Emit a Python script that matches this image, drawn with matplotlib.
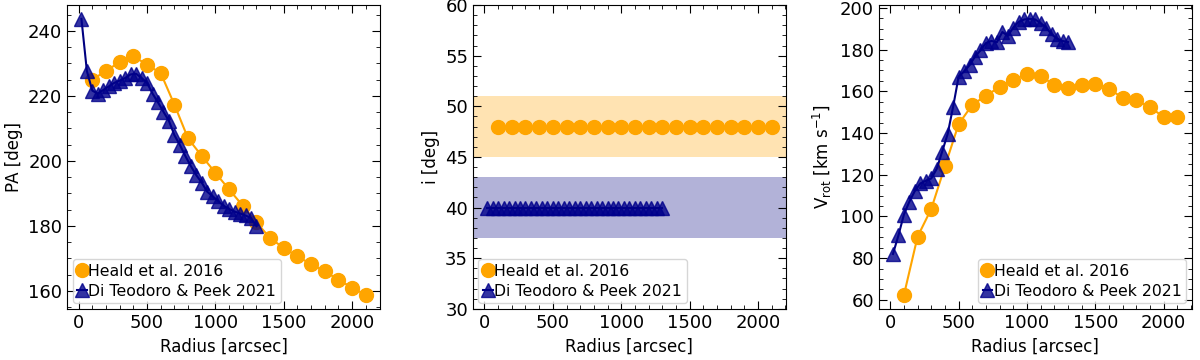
import matplotlib.pyplot as plt
from matplotlib.ticker import MultipleLocator

# Heald et al. 2016
r_heald = [100, 200, 300, 400, 500, 600, 700, 800, 900, 1000, 1100,
           1200, 1300, 1400, 1500, 1600, 1700, 1800, 1900, 2000, 2100]
pa_heald = [225.0, 227.7, 230.4, 232.2, 229.6, 227.0, 217.3, 206.9, 201.5, 196.3, 191.2,
            186.2, 181.1, 176.2, 173.2, 170.6, 168.2, 166.0, 163.4, 161.0, 158.7]
inc_heald = [48] * len(r_heald)
vrot_heald = [62.3, 90.3, 103.6, 124.0, 144.2, 153.5, 157.9, 162.0, 165.6, 168.2, 167.1,
              163.2, 161.7, 163.2, 163.6, 161.2, 156.8, 155.6, 152.4, 147.6, 147.7]

# Di Teodoro & Peek 2021
r_dtp = [20, 60, 100, 140, 180, 220, 260, 300, 340, 380, 420, 460, 500, 540, 580, 620, 660,
         700, 740, 780, 820, 860, 900, 940, 980, 1020, 1060, 1100, 1140, 1180, 1220, 1260, 1300]
pa_dtp = [243.7, 227.6, 221.6, 220.7, 221.8, 222.9, 224.0, 224.7, 225.5, 226.6, 226.8,
          225.5, 224.0, 220.7, 218.0, 215.1, 212.3, 207.9, 204.9, 201.5, 198.4, 195.6,
          193.3, 190.5, 189.1, 187.6, 186.2, 185.2, 184.4, 183.8, 183.2, 182.4, 179.9]
inc_dtp = [40] * len(r_dtp)
vrot_dtp = [82.0, 90.9, 100.9, 107.1, 112.2, 115.8, 117.1, 118.2, 122.8, 131.1, 139.5,
            152.6, 166.9, 169.5, 172.5, 176.6, 179.6, 183.1, 184.1, 183.5, 188.4, 186.6,
            190.5, 193.3, 194.4, 194.7, 194.4, 192.7, 190.5, 187.3, 185.2, 184.1, 183.6]

inc_band_heald = (45, 51)
inc_band_dtp = (37, 43)

lab_h = "Heald et al. 2016"
lab_d = "Di Teodoro & Peek 2021"
tri_face = (0.0, 0.0, 0.545, 0.8)

plt.rcParams['font.size'] = 12

fig, axes = plt.subplots(1, 3, figsize=(12, 3.6), dpi=100)
fig.subplots_adjust(left=0.056, right=0.993, top=0.986, bottom=0.142, wspace=0.297)


def draw(ax, yh, yd):
    ax.plot(r_heald, yh, color='orange', marker='o', markersize=10, lw=1.5, label=lab_h)
    ax.plot(r_dtp, yd, color='navy', marker='^', markersize=9.5, lw=1.5,
            mfc=tri_face, mec=tri_face, label=lab_d)


def leg(ax, loc):
    ax.legend(loc=loc, handlelength=0.6, handletextpad=0.1, borderaxespad=0.35,
              borderpad=0.3, labelspacing=0.3, fontsize=11.3)


ax = axes[0]
draw(ax, pa_heald, pa_dtp)
ax.set_ylabel("PA [deg]")
ax.yaxis.set_major_locator(MultipleLocator(20))
ax.yaxis.set_minor_locator(MultipleLocator(5))
leg(ax, 'lower left')

ax = axes[1]
ax.axhspan(*inc_band_heald, color='orange', alpha=0.3, lw=0)
ax.axhspan(*inc_band_dtp, color='navy', alpha=0.3, lw=0)
draw(ax, inc_heald, inc_dtp)
ax.set_ylim(30, 60)
ax.set_ylabel("i [deg]")
ax.yaxis.set_major_locator(MultipleLocator(5))
ax.yaxis.set_minor_locator(MultipleLocator(1))
leg(ax, 'lower left')

ax = axes[2]
draw(ax, vrot_heald, vrot_dtp)
ax.set_ylabel(r"V$_{\rm rot}$ [km s$^{-1}$]")
ax.yaxis.set_major_locator(MultipleLocator(20))
ax.yaxis.set_minor_locator(MultipleLocator(5))
leg(ax, 'lower right')

for ax in axes:
    ax.set_xlabel("Radius [arcsec]")
    ax.xaxis.set_major_locator(MultipleLocator(500))
    ax.xaxis.set_minor_locator(MultipleLocator(100))
    ax.tick_params(which='both', direction='in', top=True, right=True, labelsize=13)
    ax.tick_params(which='major', length=6)
    ax.tick_params(which='minor', length=3)

plt.savefig("out.png", dpi=100)
